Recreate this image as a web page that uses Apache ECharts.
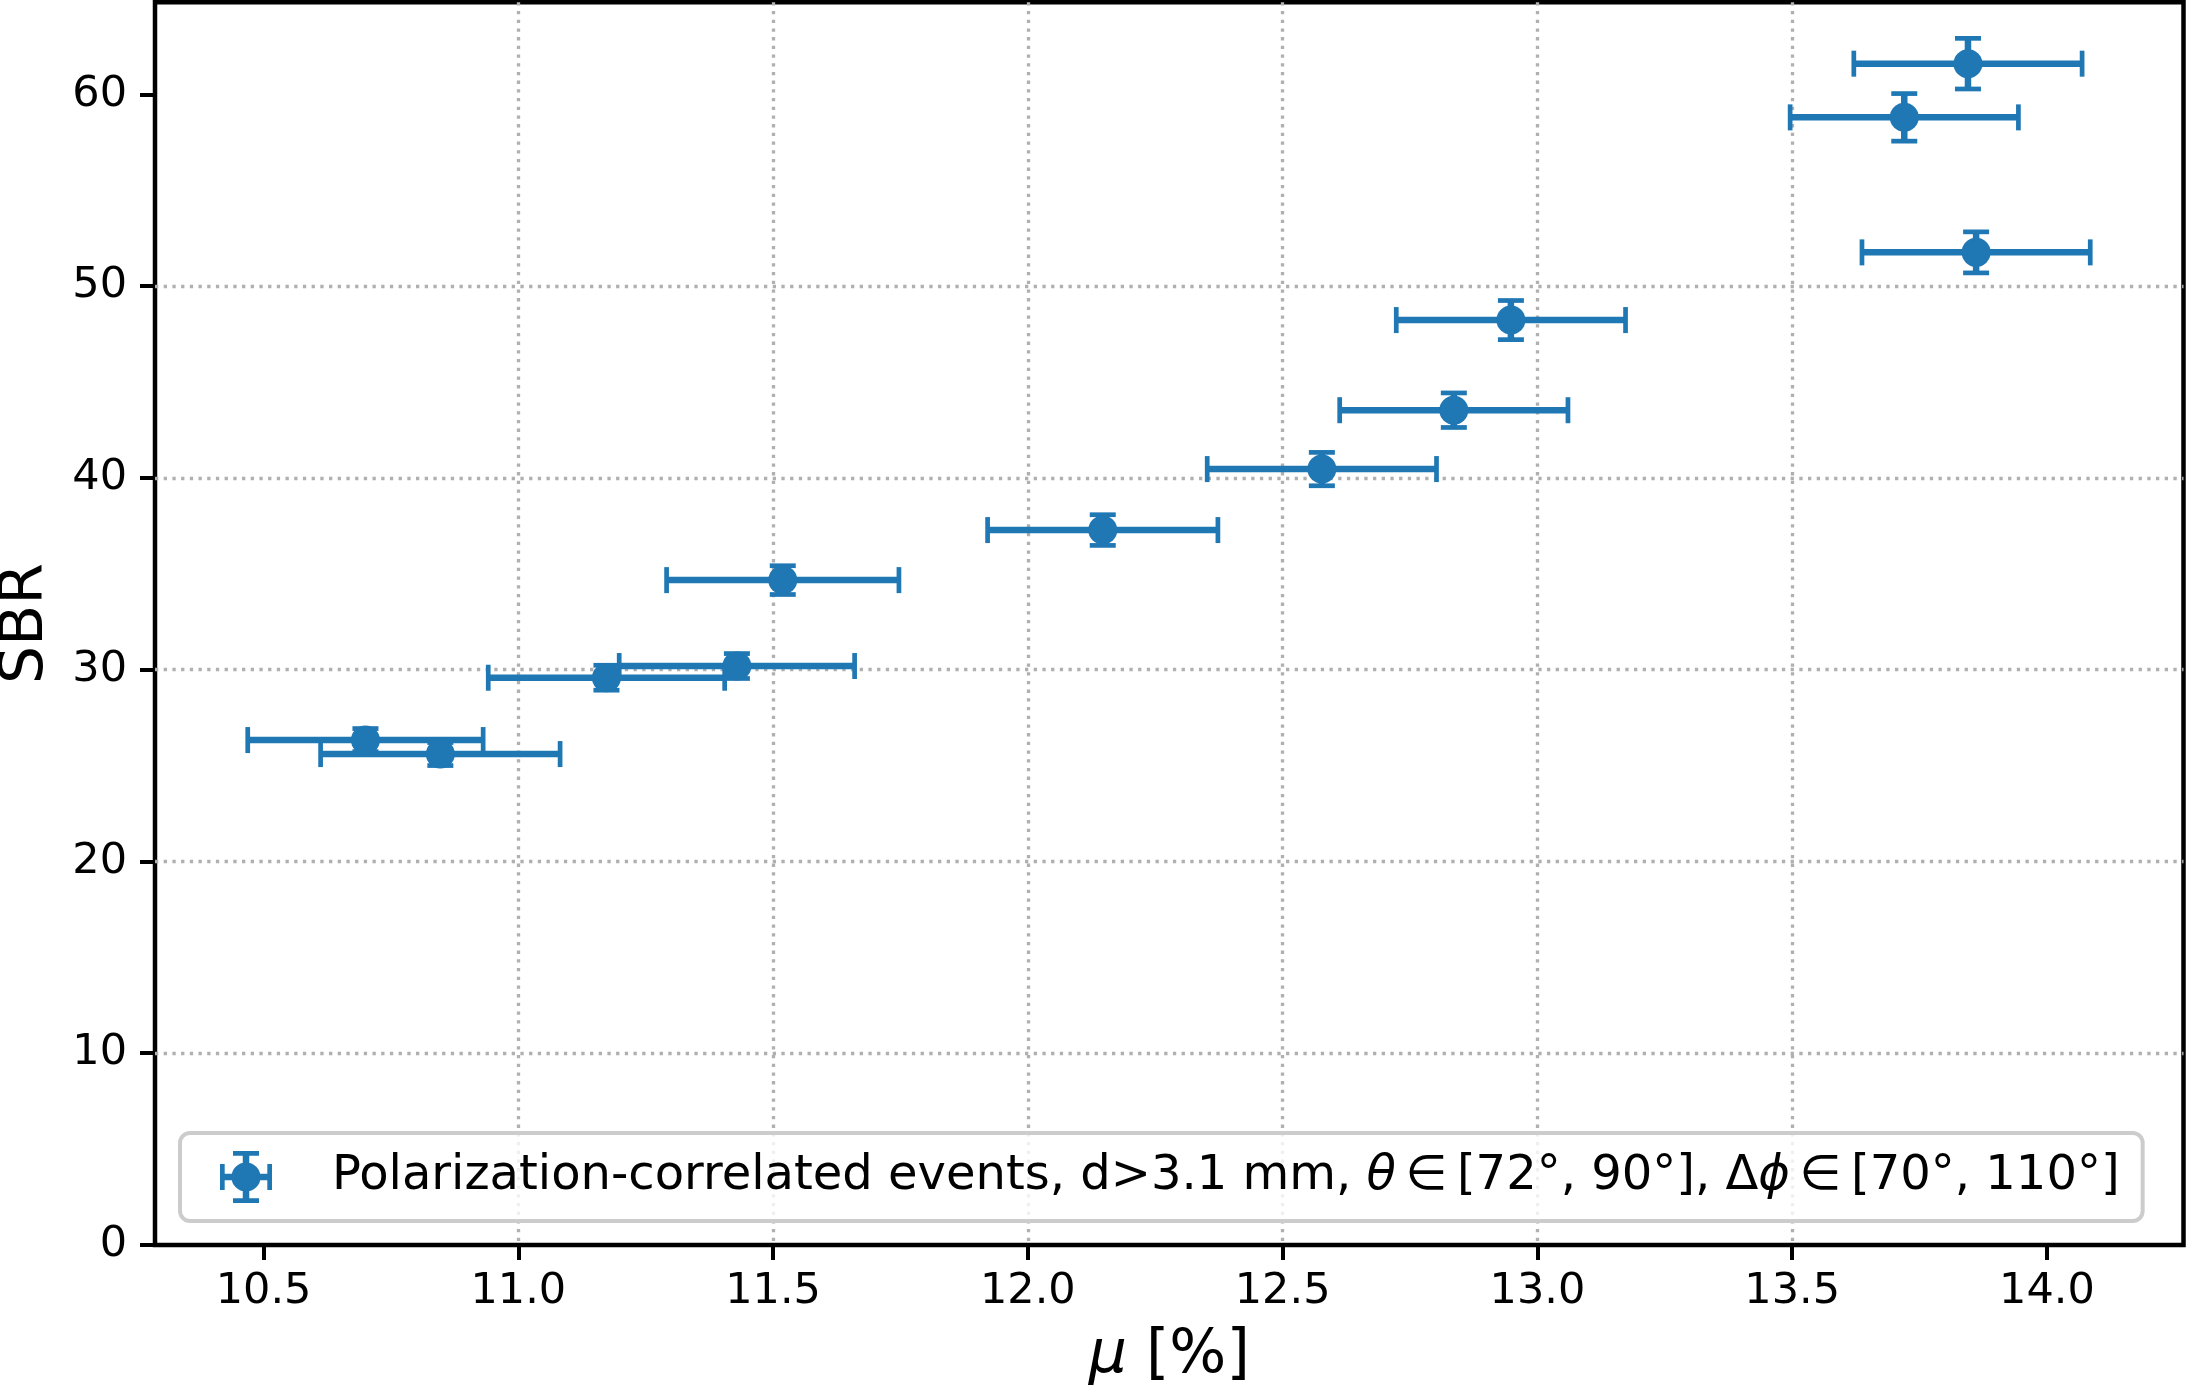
<!DOCTYPE html>
<html>
<head>
<meta charset="utf-8">
<script src="https://cdn.jsdelivr.net/npm/echarts@6/dist/echarts.min.js"></script>
<style>
html,body{margin:0;padding:0;background:#fff;}
#chart{width:2186px;height:1389px;}
</style>
</head>
<body>
<div id="chart"></div>
<script>
// ---- data ----
var muValues  = [10.70, 10.847, 11.173, 11.429, 11.519, 12.147, 12.577, 12.836, 12.948, 13.720, 13.845, 13.861];
var sbrValues = [26.33, 25.60, 29.58, 30.19, 34.67, 37.28, 40.46, 43.53, 48.23, 58.80, 61.60, 51.76];
var muErr     = [0.231, 0.235, 0.232, 0.231, 0.228, 0.226, 0.225, 0.224, 0.225, 0.224, 0.224, 0.224];
var sbrErr    = [0.60, 0.60, 0.65, 0.65, 0.75, 0.80, 0.87, 0.90, 1.02, 1.24, 1.32, 1.07];
var xTicks = [10.5, 11.0, 11.5, 12.0, 12.5, 13.0, 13.5, 14.0];
var yTicks = [0, 10, 20, 30, 40, 50, 60];
var legendLabel = 'Polarization-correlated events, d>3.1 mm, θ∈[72°, 90°], Δϕ∈[70°, 110°]';

var FONT = 'DejaVu Sans';
var BLUE = '#1f77b4';

var pointData = muValues.map(function (m, i) { return [m, sbrValues[i]]; });
var errData = muValues.map(function (m, i) { return [m, sbrValues[i], muErr[i], sbrErr[i]]; });

var chart = echarts.init(document.getElementById('chart'), null, {renderer: 'canvas'});

var iconPath = 'path://' +
  'M0,43.75H100V56.25H0Z' +
  'M43.75,0H56.25V100H43.75Z' +
  'M25,0H75V9H25Z' +
  'M25,91H75V100H25Z' +
  'M0,25H9V75H0Z' +
  'M91,25H100V75H91Z' +
  'M50,22A28,28 0 0 1 50,78A28,28 0 0 1 50,22Z';

function gridLine() {
  return {show: true, showMinLine: false, showMaxLine: false,
    lineStyle: {color: '#b0b0b0', width: 3.3, type: [3.3, 5.4]}};
}

chart.setOption({
  animation: false,
  backgroundColor: '#fff',
  grid: {
    left: 155, top: 2.3, right: 2.5, bottom: 144,
    show: true, borderColor: '#000', borderWidth: 4.5, backgroundColor: 'transparent',
    containLabel: false, outerBoundsMode: 'none'
  },
  xAxis: {
    type: 'value', min: 10.287, max: 14.268,
    axisLine: {show: false},
    axisTick: {show: true, length: 15, customValues: xTicks, lineStyle: {color: '#000', width: 4}},
    axisLabel: {customValues: xTicks, margin: 25, color: '#000', fontSize: 43, fontFamily: FONT,
      formatter: function (v) { return v.toFixed(1); }},
    splitLine: gridLine(),
    name: '{i|μ} [%]', nameLocation: 'middle', nameGap: 81,
    nameTextStyle: {color: '#000', fontSize: 60, fontFamily: FONT,
      rich: {i: {fontStyle: 'italic', fontSize: 60, fontFamily: FONT, color: '#000'}}}
  },
  yAxis: {
    type: 'value', min: 0, max: 64.8,
    axisLine: {show: false},
    axisTick: {show: true, length: 15, customValues: yTicks, lineStyle: {color: '#000', width: 4}},
    axisLabel: {customValues: yTicks, margin: 28, color: '#000', fontSize: 43, fontFamily: FONT},
    splitLine: gridLine(),
    name: 'SBR', nameLocation: 'middle', nameGap: 99,
    nameTextStyle: {color: '#000', fontSize: 60, fontFamily: FONT}
  },
  legend: {
    left: 180, top: 1133,
    orient: 'horizontal',
    padding: [18, 23, 18, 40],
    backgroundColor: 'rgba(255,255,255,0.8)',
    borderColor: '#cccccc', borderWidth: 4, borderRadius: 10,
    itemWidth: 52, itemHeight: 52,
    data: [{name: legendLabel, icon: iconPath}],
    formatter: function () {
      return 'Polarization-correlated events, d>3.1 mm, {i|θ}\u2009∈\u2009[72°, 90°], Δ{i|ϕ}\u2009∈\u2009[70°, 110°]';
    },
    textStyle: {color: '#000', fontSize: 48, fontFamily: FONT, padding: [0, 0, 0, 55],
      rich: {i: {fontStyle: 'italic', fontSize: 48, fontFamily: FONT, color: '#000'}}},
    itemStyle: {color: BLUE}
  },
  series: [
    {
      type: 'custom',
      name: 'errbars',
      z: 2,
      silent: true,
      data: errData,
      renderItem: function (params, api) {
        var x = api.value(0), y = api.value(1), xe = api.value(2), ye = api.value(3);
        var l = api.coord([x - xe, y]), r = api.coord([x + xe, y]);
        var t = api.coord([x, y + ye]), b = api.coord([x, y - ye]);
        var cap = 13;
        var st = {stroke: BLUE, lineWidth: 6.5, lineCap: 'butt'};
        var cs = {stroke: BLUE, lineWidth: 4.7, lineCap: 'butt'};
        return {
          type: 'group',
          children: [
            {type: 'line', shape: {x1: l[0], y1: l[1], x2: r[0], y2: r[1]}, style: st},
            {type: 'line', shape: {x1: t[0], y1: t[1], x2: b[0], y2: b[1]}, style: st},
            {type: 'line', shape: {x1: l[0], y1: l[1] - cap, x2: l[0], y2: l[1] + cap}, style: cs},
            {type: 'line', shape: {x1: r[0], y1: r[1] - cap, x2: r[0], y2: r[1] + cap}, style: cs},
            {type: 'line', shape: {x1: t[0] - cap, y1: t[1], x2: t[0] + cap, y2: t[1]}, style: cs},
            {type: 'line', shape: {x1: b[0] - cap, y1: b[1], x2: b[0] + cap, y2: b[1]}, style: cs}
          ]
        };
      }
    },
    {
      type: 'scatter',
      name: legendLabel,
      z: 3,
      symbol: 'circle',
      symbolSize: 29,
      itemStyle: {color: BLUE, opacity: 1},
      data: pointData
    }
  ]
});
</script>
</body>
</html>
